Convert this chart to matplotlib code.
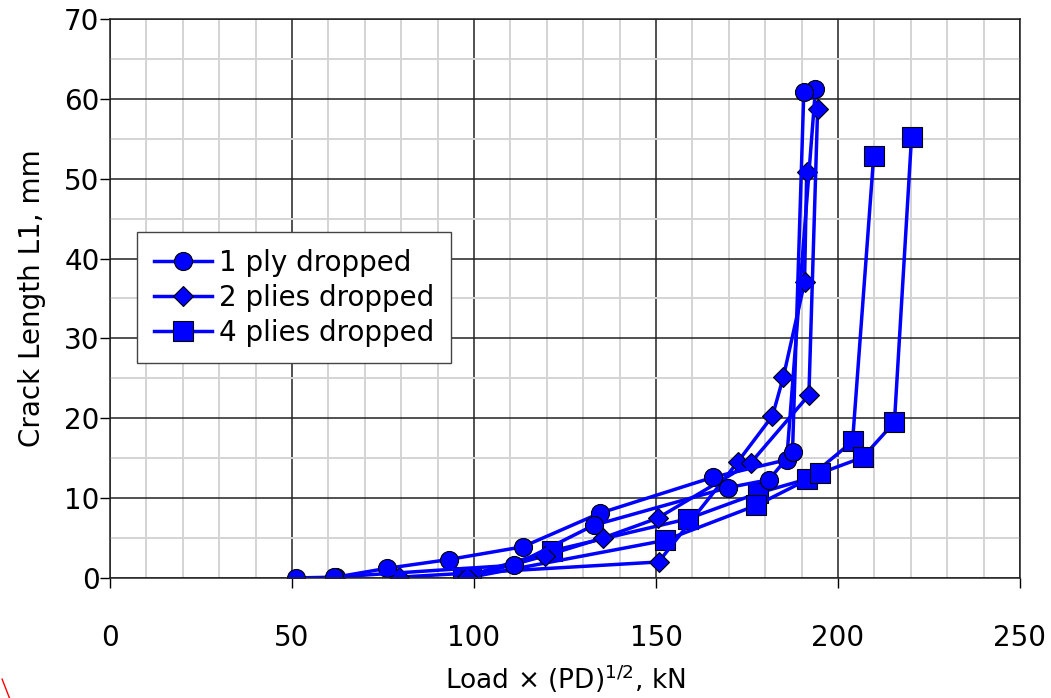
import matplotlib.pyplot as plt
from matplotlib.lines import Line2D
import numpy as np

plt.rcParams['font.family'] = ['DejaVu Sans']
plt.rcParams['mathtext.fontset'] = 'dejavusans'

# 1 ply dropped (two specimens)
ply1_a_x = [51, 62, 76, 93, 113.4, 134.5, 165.6, 185.9, 193.8]
ply1_a_y = [0.0, 0.1, 1.2, 2.3, 3.9, 8.1, 12.6, 14.8, 61.2]
ply1_b_x = [61.5, 111, 132.9, 169.7, 181, 187.5, 190.6]
ply1_b_y = [0.1, 1.6, 6.6, 11.3, 12.3, 15.8, 60.8]

# 2 plies dropped
ply2_a_x = [79.4, 150.7, 172.4, 182, 185, 190.8, 191.4]
ply2_a_y = [0.1, 2.0, 14.5, 20.3, 25.2, 37.0, 50.8]
ply2_b_x = [98, 119.4, 135.4, 150.5, 176, 192, 194.4]
ply2_b_y = [0.1, 2.75, 5.0, 7.5, 14.4, 22.9, 58.7]

# 4 plies dropped
ply4_a_x = [97, 121.4, 158.7, 177.9, 191.6, 204, 209.8]
ply4_a_y = [0.1, 3.4, 7.4, 10.6, 12.4, 17.1, 52.8]
ply4_b_x = [99.1, 152.4, 177.6, 195, 206.8, 215.5, 220.2]
ply4_b_y = [0.1, 4.7, 9.1, 13.1, 15.1, 19.5, 55.2]

labels = ['1 ply dropped', '2 plies dropped', '4 plies dropped']

fig = plt.figure(figsize=(10.51, 6.98), dpi=100)
ax = fig.add_axes([0.1047, 0.172, 0.8658, 0.8008])

blue = '#0000FF'
kw = dict(color=blue, lw=2.5, markerfacecolor=blue, markeredgecolor='black', markeredgewidth=0.8)
circ = dict(marker='o', ms=13)
diam = dict(marker='D', ms=10)
sq = dict(marker='s', ms=14)

ax.plot(ply4_a_x, ply4_a_y, **sq, **kw)
ax.plot(ply4_b_x, ply4_b_y, **sq, **kw)
ax.plot(ply2_a_x, ply2_a_y, **diam, **kw)
ax.plot(ply2_b_x, ply2_b_y, **diam, **kw)
ax.plot(ply1_a_x, ply1_a_y, **circ, **kw)
ax.plot(ply1_b_x, ply1_b_y, **circ, **kw)

ax.set_xlim(0, 250)
ax.set_ylim(0, 70)
ax.set_xticks(np.arange(0, 251, 50))
ax.set_yticks(np.arange(0, 71, 10))
ax.set_xticks(np.arange(0, 251, 10), minor=True)
ax.set_yticks(np.arange(0, 71, 5), minor=True)
ax.grid(which='minor', color='#d4d4d4', lw=1.4)
ax.grid(which='major', color='#222222', lw=1.1)
ax.set_axisbelow(True)
ax.tick_params(which='major', direction='out', length=7, width=1,
               labelsize=20, colors='black')
ax.tick_params(which='minor', length=0)
ax.tick_params(axis='x', pad=26)
ax.tick_params(axis='y', pad=0.5)
for s in ax.spines.values():
    s.set_color('#222222')
    s.set_linewidth(1.1)

ax.set_ylabel('Crack Length L1, mm', fontsize=20, labelpad=13)
ax.set_xlabel(r'Load × (PD)$^{1/2}$, kN', fontsize=19, labelpad=8)

handles = [
    Line2D([], [], **circ, **kw),
    Line2D([], [], **diam, **kw),
    Line2D([], [], **sq, **kw),
]
leg = ax.legend(handles, labels, loc='upper left', bbox_to_anchor=(0.0297, 0.619),
                borderaxespad=0, fontsize=20, frameon=True, fancybox=False,
                edgecolor='#444444', framealpha=1, handlelength=2.1,
                handletextpad=0.25, labelspacing=0.25, borderpad=0.6)
leg.get_frame().set_linewidth(1.0)

fig.add_artist(Line2D([0.002, 0.009], [0.027, 0.0], color='red', lw=1,
                      transform=fig.transFigure))

fig.savefig('out.png', dpi=100)
